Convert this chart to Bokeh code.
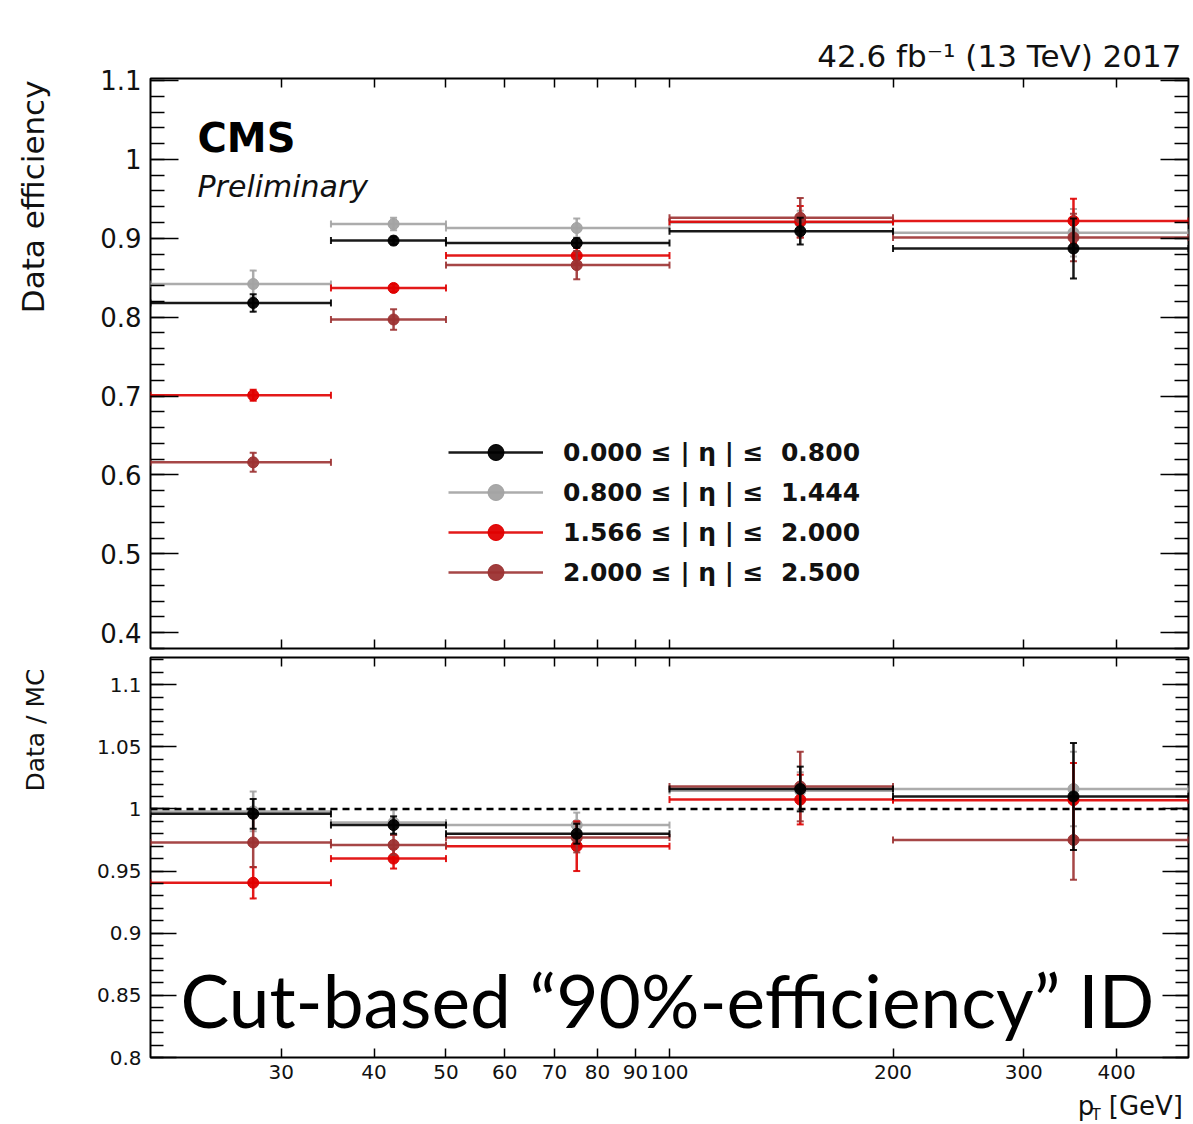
import numpy as np
from bokeh.plotting import figure
from bokeh.models import (Range1d, FixedTicker, LogAxis, LinearAxis, CustomJSTickFormatter,
                          ColumnDataSource, Legend, LegendItem, Label, Span)
from bokeh.layouts import column, row
from bokeh.embed import file_html
from bokeh.resources import INLINE

# ---------------- data ----------------
bin_lo = [20, 35, 50, 100, 200]
bin_hi = [35, 50, 100, 200, 500]
pt_center = [27.5, 42.5, 75, 150, 350]

series_labels = ["0.000 ≤ | η | ≤  0.800",
                 "0.800 ≤ | η | ≤  1.444",
                 "1.566 ≤ | η | ≤  2.000",
                 "2.000 ≤ | η | ≤  2.500"]
series_colors = ["#000000", "#a3a3a3", "#e00000", "#9c3232"]

# Data efficiency (top panel)
eff_eta1 = [0.818, 0.897, 0.894, 0.909, 0.887]
eff_eta1_err = [0.011, 0.005, 0.006, 0.017, 0.038]
eff_eta2 = [0.842, 0.918, 0.913, 0.920, 0.907]
eff_eta2_err = [0.017, 0.008, 0.012, 0.015, 0.030]
eff_eta3 = [0.701, 0.837, 0.878, 0.921, 0.922]
eff_eta3_err = [0.007, 0.005, 0.010, 0.020, 0.028]
eff_eta4 = [0.616, 0.797, 0.866, 0.926, 0.901]
eff_eta4_err = [0.012, 0.013, 0.018, 0.025, 0.030]

# Data / MC (bottom panel)
sf_eta1 = [0.996, 0.987, 0.980, 1.016, 1.010]
sf_eta1_err = [0.012, 0.007, 0.008, 0.018, 0.043]
sf_eta2 = [0.998, 0.989, 0.987, 1.0145, 1.016]
sf_eta2_err = [0.016, 0.010, 0.010, 0.015, 0.030]
sf_eta3 = [0.9406, 0.960, 0.970, 1.0075, 1.007]
sf_eta3_err = [0.0126, 0.008, 0.020, 0.020, 0.030]
sf_eta4 = [0.973, 0.971, 0.977, 1.018, 0.975]
sf_eta4_err = [0.020, 0.008, 0.012, 0.028, 0.032]

eff_vals = [eff_eta1, eff_eta2, eff_eta3, eff_eta4]
eff_errs = [eff_eta1_err, eff_eta2_err, eff_eta3_err, eff_eta4_err]
sf_vals = [sf_eta1, sf_eta2, sf_eta3, sf_eta4]
sf_errs = [sf_eta1_err, sf_eta2_err, sf_eta3_err, sf_eta4_err]

x_tick_values = [30, 40, 50, 60, 70, 80, 90, 100, 200, 300, 400]

lumi_text = "42.6 fb⁻¹ (13 TeV) 2017"

FONT = "DejaVu Sans"
W = 1193
H = 1124
LEFT_W = 60          # width of the strip carrying the y titles
MAIN_W = W - LEFT_W
FRAME_L = 150        # page x of the frames' left edge
FRAME_R = 5


def num_fmt():
    return CustomJSTickFormatter(code="return (Math.round(tick*1000)/1000).toString();")


def style_common(p):
    p.background_fill_color = "white"
    p.border_fill_color = "white"
    p.outline_line_color = "black"
    p.outline_line_width = 2
    p.xgrid.visible = False
    p.ygrid.visible = False


def hide_labels(ax):
    ax.major_label_text_font_size = "0px"
    ax.major_label_text_color = None
    ax.major_label_standoff = 0
    ax.axis_label = None


def style_x(ax, show):
    ax.ticker = FixedTicker(ticks=x_tick_values)
    ax.formatter = CustomJSTickFormatter(code="return tick.toFixed(0);")
    ax.major_tick_in = 9
    ax.major_tick_out = 0
    ax.minor_tick_in = 0
    ax.minor_tick_out = 0
    ax.axis_line_color = None
    ax.major_tick_line_color = "black"
    ax.major_tick_line_width = 1.5
    if show:
        ax.major_label_text_font = FONT
        ax.major_label_text_font_size = "20px"
        ax.major_label_text_color = "#111111"
        ax.major_label_standoff = 7
    else:
        hide_labels(ax)


def style_y(ax, majors, minors, maj_len, min_len, show, fsize):
    ax.ticker = FixedTicker(ticks=majors, minor_ticks=minors)
    ax.formatter = num_fmt()
    ax.major_tick_in = maj_len
    ax.major_tick_out = 0
    ax.minor_tick_in = min_len
    ax.minor_tick_out = 0
    ax.axis_line_color = None
    ax.major_tick_line_color = "black"
    ax.minor_tick_line_color = "black"
    ax.major_tick_line_width = 1.5
    ax.minor_tick_line_width = 1.5
    if show:
        ax.major_label_text_font = FONT
        ax.major_label_text_font_size = fsize
        ax.major_label_text_color = "#111111"
        ax.major_label_standoff = 9
    else:
        hide_labels(ax)


def draw_series(p, vals, errs, color):
    src = ColumnDataSource(dict(
        x=pt_center, lo=bin_lo, hi=bin_hi, y=vals,
        ylo=[v - e for v, e in zip(vals, errs)],
        yhi=[v + e for v, e in zip(vals, errs)],
    ))
    h = p.segment(x0="lo", x1="hi", y0="y", y1="y", source=src,
                  line_color=color, line_width=2.5, line_alpha=0.9)
    p.segment(x0="x", x1="x", y0="ylo", y1="yhi", source=src,
              line_color=color, line_width=2.5, line_alpha=0.9)
    for col in ("lo", "hi"):
        p.scatter(x=col, y="y", source=src, marker="dash", angle=np.pi / 2,
                  size=7, line_color=color, line_width=2, line_alpha=0.9)
    for col in ("ylo", "yhi"):
        p.scatter(x="x", y=col, source=src, marker="dash",
                  size=7, line_color=color, line_width=2, line_alpha=0.9)
    pts = p.scatter(x="x", y="y", source=src, marker="circle", size=11,
                    fill_color=color, line_color=color, fill_alpha=0.95)
    return h, pts


def blank_fig(w, h):
    f = figure(width=w, height=h, x_range=Range1d(0, w), y_range=Range1d(h, 0),
               x_axis_location=None, y_axis_location=None, min_border=0,
               toolbar_location=None, output_backend="svg")
    f.outline_line_color = None
    f.grid.visible = False
    f.background_fill_color = "white"
    f.border_fill_color = "white"
    return f


def text(f, x, y, s, size, style="normal", align="left", angle=0, font=FONT,
         color="#111111", units="data"):
    f.add_layout(Label(x=x, y=y, x_units=units, y_units=units, text=s,
                       text_font=font, text_font_size=size, text_font_style=style,
                       text_align=align, angle=angle, text_baseline="middle",
                       text_color=color))


draw_order = [1, 2, 3, 0]

# ---------------- top panel ----------------
P1_TOP = 78
TOP_FRAME_H = 570
P1_BOTTOM = 5
p1 = figure(width=MAIN_W, height=P1_TOP + TOP_FRAME_H + P1_BOTTOM, x_axis_type="log",
            x_range=Range1d(20, 500), y_range=Range1d(0.38, 1.1025),
            output_backend="svg", toolbar_location=None,
            min_border_left=FRAME_L - LEFT_W, min_border_right=FRAME_R,
            min_border_top=P1_TOP, min_border_bottom=P1_BOTTOM,
            title=lumi_text)
style_common(p1)
p1.title.align = "right"
p1.title.offset = 7
p1.title.text_font = FONT
p1.title.text_font_size = "31px"
p1.title.text_font_style = "normal"
p1.title.text_color = "#111111"
p1.add_layout(LogAxis(), "above")
p1.add_layout(LinearAxis(), "right")
for ax in p1.below + p1.above:
    style_x(ax, False)
top_majors = [0.4, 0.5, 0.6, 0.7, 0.8, 0.9, 1.0, 1.1]
top_minors = list(np.round(np.arange(0.38, 1.1001, 0.02), 3))
style_y(p1.left[0], top_majors, top_minors, 28, 14, True, "26px")
style_y(p1.right[0], top_majors, top_minors, 28, 14, False, "0px")

renders = {}
for i in draw_order:
    renders[i] = draw_series(p1, eff_vals[i], eff_errs[i], series_colors[i])

legend = Legend(items=[LegendItem(label=series_labels[i], renderers=list(renders[i]))
                       for i in range(4)],
                location=(298, 56), orientation="vertical",
                glyph_width=95, glyph_height=40, label_height=40, label_standoff=20,
                spacing=0, padding=0, margin=0,
                label_text_font=FONT, label_text_font_style="bold",
                label_text_font_size="25px", label_text_color="#111111",
                border_line_alpha=0, background_fill_alpha=0)
p1.add_layout(legend, "center")

p1_frame_bottom = P1_TOP + TOP_FRAME_H   # page y (648)
text(p1, 197 - FRAME_L, p1_frame_bottom - 137, "CMS", "40px", style="bold",
     color="black", units="screen")
text(p1, 197 - FRAME_L, p1_frame_bottom - 186, "Preliminary", "30px", style="italic",
     units="screen")

# ---------------- bottom panel ----------------
P2_TOP = 4
BOT_FRAME_H = 400
P2_BOTTOM = 35
p2 = figure(width=MAIN_W, height=P2_TOP + BOT_FRAME_H + P2_BOTTOM, x_axis_type="log",
            x_range=p1.x_range, y_range=Range1d(0.8, 1.1218),
            output_backend="svg", toolbar_location=None,
            min_border_left=FRAME_L - LEFT_W, min_border_right=FRAME_R,
            min_border_top=P2_TOP, min_border_bottom=P2_BOTTOM)
style_common(p2)
p2.add_layout(LogAxis(), "above")
p2.add_layout(LinearAxis(), "right")
style_x(p2.below[0], True)
style_x(p2.above[0], False)
bot_majors = [0.8, 0.85, 0.9, 0.95, 1.0, 1.05, 1.1]
bot_minors = list(np.round(np.arange(0.8, 1.1201, 0.01), 3))
style_y(p2.left[0], bot_majors, bot_minors, 26, 13, True, "20px")
style_y(p2.right[0], bot_majors, bot_minors, 26, 13, False, "0px")

p2.add_layout(Span(location=1.0, dimension="width", line_color="black",
                   line_width=2.5, line_dash="7 5"))
for i in draw_order:
    draw_series(p2, sf_vals[i], sf_errs[i], series_colors[i])

p2_page_top = P1_TOP + TOP_FRAME_H + P1_BOTTOM
p2_frame_bottom = p2_page_top + P2_TOP + BOT_FRAME_H   # page y (1057)
text(p2, 180 - FRAME_L, p2_frame_bottom - 999, "Cut-based “90%-efficiency” ID", "73px",
     font="Lato", color="black", units="screen")

# ---------------- text strips ----------------
BOTTOM_H = H - (p2_page_top + P2_TOP + BOT_FRAME_H + P2_BOTTOM)
bottom_strip = blank_fig(MAIN_W, BOTTOM_H)
bs_top = H - BOTTOM_H
text(bottom_strip, 1072 - LEFT_W, 1105 - bs_top, "p", "26px")
text(bottom_strip, 1087 - LEFT_W, 1114 - bs_top, "T", "15px")
text(bottom_strip, 1106 - LEFT_W, 1105 - bs_top, "[GeV]", "26px")

left_strip = blank_fig(LEFT_W, H)
text(left_strip, 32, 80, "Data efficiency", "31px", align="right", angle=np.pi / 2)
text(left_strip, 35, 668, "Data / MC", "25px", align="right", angle=np.pi / 2)

layout = row(left_strip, column(p1, p2, bottom_strip, spacing=0), spacing=0)
open("out.html", "w").write(file_html(layout, INLINE))
